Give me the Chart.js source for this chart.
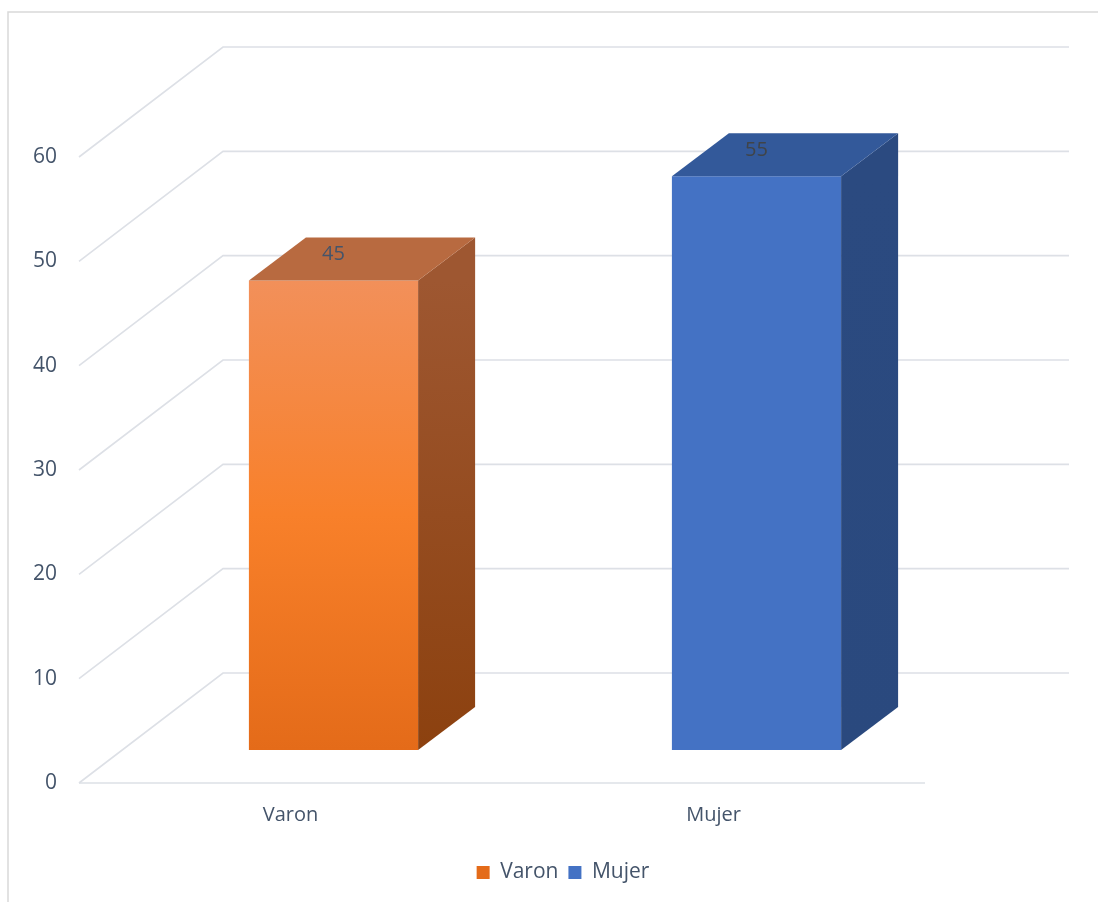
<!DOCTYPE html>
<html>
<head>
<meta charset="utf-8">
<script src="https://cdn.jsdelivr.net/npm/chart.js@4.4.0/dist/chart.umd.min.js"></script>
<style>
  html, body { margin: 0; padding: 0; background: #fff; }
  canvas { display: block; }
</style>
</head>
<body>
<canvas id="grafico" width="1098" height="902"></canvas>
<script>
const categorias = ["Varon", "Mujer"];
const valores = [45, 55];
const marcasY = [0, 10, 20, 30, 40, 50, 60];

// colores de cada cara del prisma: frente (arriba, medio, abajo), lado (arriba, abajo), tapa
const tonosFrente = [["#F2905A", "#F8802A", "#E46B19"], ["#4472C4", "#4472C4", "#4472C4"]];
const tonosLado = [["#9E5731", "#8C410F"], ["#2B4A80", "#2A497E"]];
const tonosTapa = ["#B86A40", "#33599A"];
const coloresEtiqueta = ["#44546A", "#404448"];
const colorTexto = "#44546A";
const fuente = "'Open Sans', sans-serif";

// desplazamientos de la perspectiva
const PARED = { dx: 144, dy: -110 };   // plano frontal -> pared del fondo
const FRENTE = { dx: 43, dy: -33 };    // plano frontal -> cara frontal de la barra
const FONDO = { dx: 57, dy: -43 };     // profundidad de la barra

function fondoFrente(c) {
  const t = tonosFrente[c.datasetIndex];
  if (c.type !== "data" || c.raw == null) return t[1];
  const y = c.chart.scales.y;
  const y1 = y.getPixelForValue(c.raw), y2 = y.getPixelForValue(0);
  if (!isFinite(y1) || !isFinite(y2)) return t[1];
  const g = c.chart.ctx.createLinearGradient(0, y1, 0, y2);
  g.addColorStop(0, t[0]);
  g.addColorStop(0.5, t[1]);
  g.addColorStop(1, t[2]);
  return g;
}

const cubos3d = {
  id: "cubos3d",
  beforeDraw(chart) {
    const { ctx, chartArea: a, scales: { y } } = chart;
    ctx.save();
    // marco exterior
    ctx.strokeStyle = "#D9D9D9";
    ctx.lineWidth = 1.5;
    ctx.strokeRect(8, 12, 1200, 1000);
    // lineas de la pared lateral y del fondo
    ctx.strokeStyle = "#DDE0E6";
    ctx.lineWidth = 1.6;
    y.ticks.forEach((t) => {
      const yy = y.getPixelForValue(t.value);
      ctx.beginPath();
      ctx.moveTo(a.left, yy);
      ctx.lineTo(a.left + PARED.dx, yy + PARED.dy);
      ctx.lineTo(a.right + PARED.dx, yy + PARED.dy);
      ctx.stroke();
    });
    // borde frontal del piso
    const y0 = y.getPixelForValue(0);
    ctx.beginPath();
    ctx.moveTo(a.left, y0);
    ctx.lineTo(a.right, y0);
    ctx.stroke();
    ctx.restore();
  },
  beforeDatasetsDraw(chart) {
    chart.ctx.save();
    chart.ctx.translate(FRENTE.dx, FRENTE.dy);
  },
  afterDatasetsDraw(chart) {
    const ctx = chart.ctx;
    const etiquetas = [];
    chart.data.datasets.forEach((ds, i) => {
      chart.getDatasetMeta(i).data.forEach((barra, j) => {
        if (ds.data[j] == null) return;
        const { x, y, base, width } = barra.getProps(["x", "y", "base", "width"], true);
        const izq = x - width / 2, der = x + width / 2;
        // cara lateral
        const gl = ctx.createLinearGradient(0, y, 0, base);
        gl.addColorStop(0, tonosLado[i][0]);
        gl.addColorStop(1, tonosLado[i][1]);
        ctx.fillStyle = gl;
        ctx.beginPath();
        ctx.moveTo(der, y);
        ctx.lineTo(der + FONDO.dx, y + FONDO.dy);
        ctx.lineTo(der + FONDO.dx, base + FONDO.dy);
        ctx.lineTo(der, base);
        ctx.closePath();
        ctx.fill();
        // tapa
        ctx.fillStyle = tonosTapa[i];
        ctx.beginPath();
        ctx.moveTo(izq, y);
        ctx.lineTo(izq + FONDO.dx, y + FONDO.dy);
        ctx.lineTo(der + FONDO.dx, y + FONDO.dy);
        ctx.lineTo(der, y);
        ctx.closePath();
        ctx.fill();
        etiquetas.push({ x: x + FRENTE.dx, y: y + FRENTE.dy - 26, texto: String(ds.data[j]), color: coloresEtiqueta[i] });
      });
    });
    ctx.restore();
    // valores sobre las barras
    ctx.save();
    ctx.font = "20px " + fuente;
    ctx.textAlign = "center";
    ctx.textBaseline = "middle";
    etiquetas.forEach((e) => {
      ctx.fillStyle = e.color;
      ctx.fillText(e.texto, e.x, e.y);
    });
    ctx.restore();
  }
};

const datasets = categorias.map((nombre, i) => ({
  label: nombre,
  data: valores.map((v, j) => (j === i ? v : null)),
  backgroundColor: fondoFrente,
  borderWidth: 0,
  skipNull: true,
  categoryPercentage: 1,
  barPercentage: 0.4
}));

new Chart(document.getElementById("grafico"), {
  type: "bar",
  data: { labels: categorias, datasets },
  plugins: [cubos3d],
  options: {
    responsive: false,
    animation: false,
    clip: false,
    layout: { padding: { top: 157, left: 28, right: 0, bottom: 9 } },
    scales: {
      x: {
        grid: { display: false },
        border: { display: false },
        ticks: { color: colorTexto, font: { family: fuente, size: 20 }, padding: 12 },
        afterFit(s) { s.height = 69; }
      },
      y: {
        min: 0,
        max: 60,
        grid: { display: false, drawTicks: false },
        border: { display: false },
        ticks: { color: colorTexto, font: { family: fuente, size: 21 }, padding: 22 },
        afterBuildTicks(s) { s.ticks = marcasY.map((v) => ({ value: v })); },
        afterFit(s) { s.width = 51; }
      },
      derecha: {
        position: "right",
        grid: { display: false },
        border: { display: false },
        ticks: { display: false },
        afterFit(s) { s.width = 173; }
      }
    },
    plugins: {
      tooltip: { enabled: false },
      legend: {
        position: "bottom",
        labels: {
          boxWidth: 13,
          boxHeight: 13,
          padding: 10,
          color: colorTexto,
          font: { family: fuente, size: 21 }
        }
      }
    }
  }
});
</script>
</body>
</html>
